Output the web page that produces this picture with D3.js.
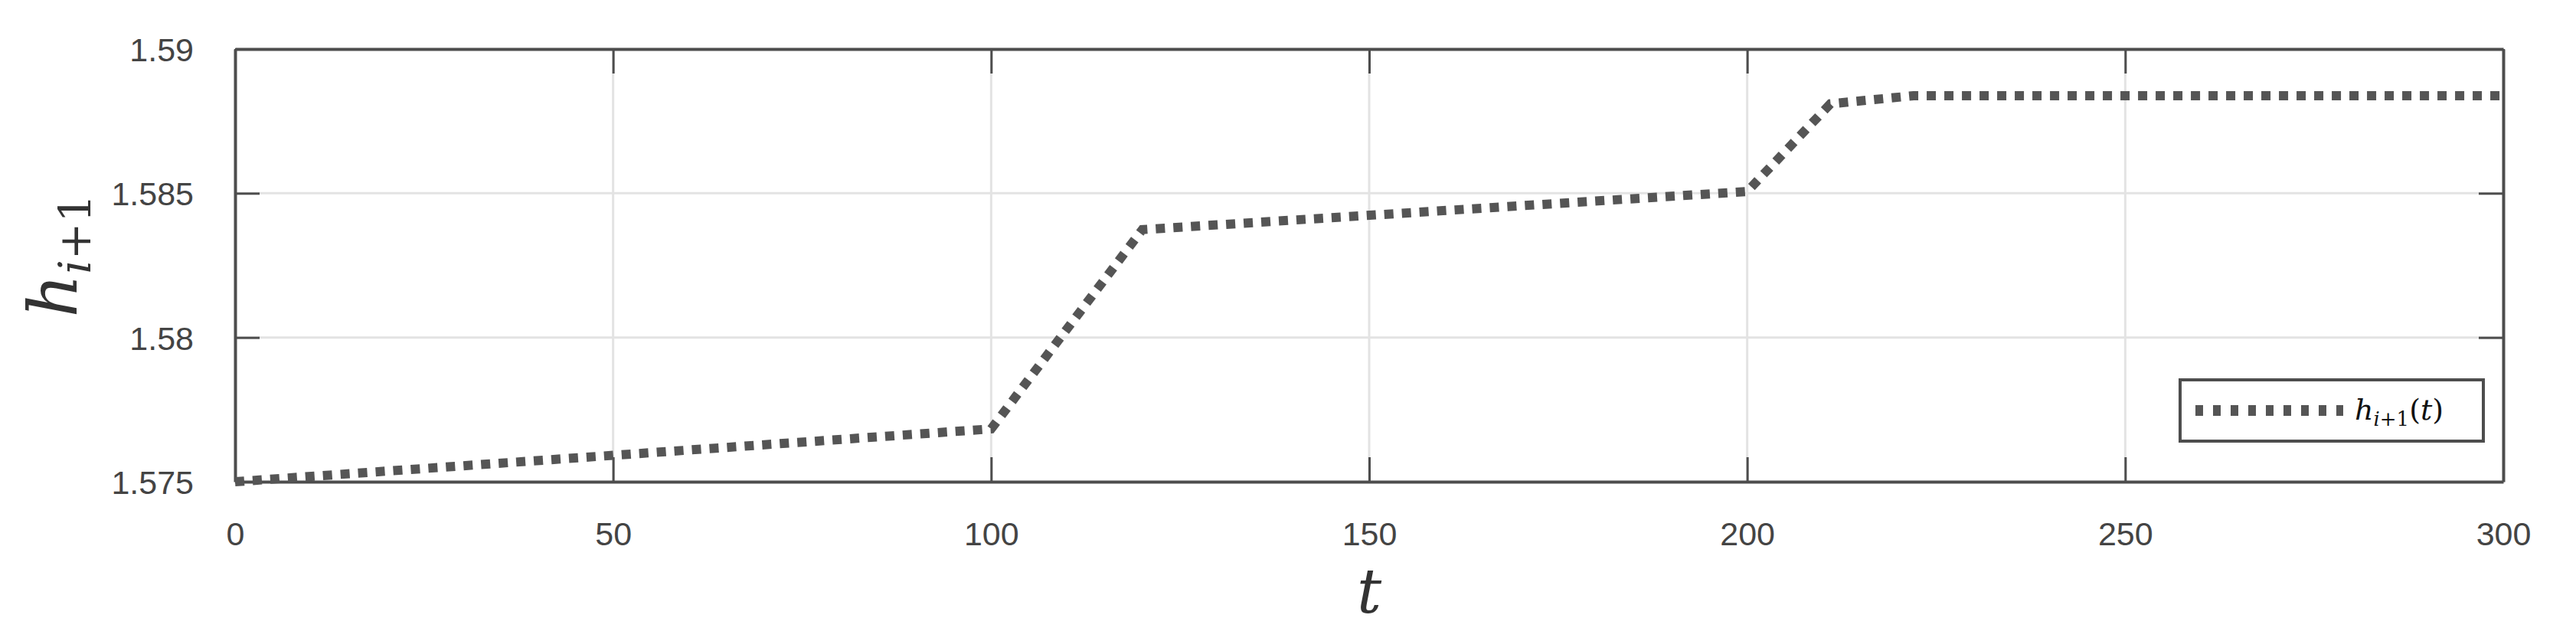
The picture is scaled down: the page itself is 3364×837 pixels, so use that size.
<!DOCTYPE html>
<html><head><meta charset="utf-8">
<script src="https://cdn.jsdelivr.net/npm/d3@7"></script>
<style>body{margin:0;background:#fff}</style>
</head><body>
<svg id="c" width="3364" height="837"></svg>
<script>
const tValues = [0, 100, 120, 200, 211, 222, 300];
const hValues = [1.575, 1.57683, 1.58374, 1.58506, 1.5881, 1.58838, 1.58838];
const xTicks = [0, 50, 100, 150, 200, 250, 300];
const yTicks = [1.575, 1.58, 1.585, 1.59];
const yTickLabels = ["1.575", "1.58", "1.585", "1.59"];

const svg = d3.select("#c");
const L = 307, R = 3269, T = 64, B = 629;
const x = d3.scaleLinear().domain([0, 300]).range([L, R]);
const y = d3.scaleLinear().domain([1.575, 1.59]).range([B, T]);
const ax = "#4d4d4d";

// grid
svg.append("g").selectAll("line").data(xTicks.slice(1, -1)).join("line")
  .attr("x1", d => x(d)).attr("x2", d => x(d)).attr("y1", T).attr("y2", B)
  .attr("stroke", "#e3e3e3").attr("stroke-width", 3);
svg.append("g").selectAll("line").data(yTicks.slice(1, -1)).join("line")
  .attr("y1", d => y(d)).attr("y2", d => y(d)).attr("x1", L).attr("x2", R)
  .attr("stroke", "#e3e3e3").attr("stroke-width", 3);

// axes
const fnt = "'Liberation Sans', Arial, sans-serif";
const bx = svg.append("g").attr("transform", `translate(0,${B})`)
  .call(d3.axisBottom(x).tickValues(xTicks).tickSizeInner(-32).tickSizeOuter(0).tickPadding(52));
const tx = svg.append("g").attr("transform", `translate(0,${T})`)
  .call(d3.axisTop(x).tickValues(xTicks).tickSizeInner(-32).tickSizeOuter(0).tickFormat(""));
const ly = svg.append("g").attr("transform", `translate(${L},0)`)
  .call(d3.axisLeft(y).tickValues(yTicks).tickSizeInner(-32).tickSizeOuter(0).tickPadding(54)
    .tickFormat((d, i) => yTickLabels[i]));
const ry = svg.append("g").attr("transform", `translate(${R},0)`)
  .call(d3.axisRight(y).tickValues(yTicks).tickSizeInner(-32).tickSizeOuter(0).tickFormat(""));
[bx, tx, ly, ry].forEach(g => {
  g.select(".domain").attr("stroke", ax).attr("stroke-width", 4);
  g.selectAll(".tick line").attr("stroke", ax).attr("stroke-width", 3);
  g.selectAll("text").attr("fill", "#444").style("font-family", fnt).style("font-size", "43px");
});
ly.selectAll("text").attr("dy", "0.36em");

// line
const line = d3.line().x((d, i) => x(tValues[i])).y(d => y(d));
svg.append("path").datum(hValues).attr("d", line)
  .attr("fill", "none").attr("stroke", "#555").attr("stroke-width", 12)
  .attr("stroke-dasharray", "12,11");

// labels
const serif = "'DejaVu Serif', 'Liberation Serif', serif";
const yl = svg.append("text").attr("transform", "translate(100,334) rotate(-90)")
  .attr("text-anchor", "middle").style("font-family", serif).style("font-size", "88px").attr("fill", "#333");
yl.append("tspan").text("h").style("font-style", "italic");
yl.append("tspan").text("i").style("font-style", "italic").style("font-size", "58px").attr("dy", 18);
yl.append("tspan").text("+1").style("font-size", "58px");
svg.append("text").attr("x", (L + R) / 2).attr("y", 800).attr("text-anchor", "middle")
  .style("font-family", serif).style("font-style", "italic").style("font-size", "80px").attr("fill", "#333").text("t");

// legend
svg.append("rect").attr("x", 2847).attr("y", 496).attr("width", 396).attr("height", 80)
  .attr("fill", "#fff").attr("stroke", ax).attr("stroke-width", 4);
svg.append("line").attr("x1", 2867).attr("x2", 3060).attr("y1", 536).attr("y2", 536)
  .attr("stroke", "#555").attr("stroke-width", 14).attr("stroke-dasharray", "10,13");
const lt = svg.append("text").attr("x", 3075).attr("y", 548).style("font-family", serif).attr("fill", "#111").style("font-size", "38px");
lt.append("tspan").text("h").style("font-style", "italic");
lt.append("tspan").text("i").style("font-style", "italic").style("font-size", "26px").attr("dy", 8);
lt.append("tspan").text("+1").style("font-size", "26px");
lt.append("tspan").text("(").attr("dy", -8);
lt.append("tspan").text("t").style("font-style", "italic");
lt.append("tspan").text(")");
</script>
</body></html>
